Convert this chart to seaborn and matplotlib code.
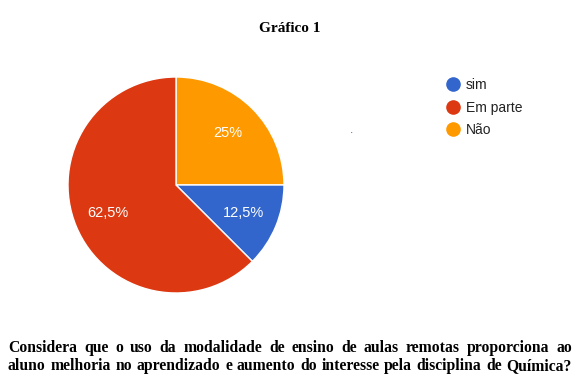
import matplotlib
matplotlib.use("Agg")
import matplotlib.pyplot as plt
import seaborn as sns
from matplotlib.lines import Line2D

sns.set_theme(style="white")
plt.rcParams['font.family'] = ['Liberation Sans', 'DejaVu Sans']

# Data
categories = ["sim", "Em parte", "Não"]
values = [12.5, 62.5, 25.0]
pct_labels = ["12,5%", "62,5%", "25%"]
colors = ["#3366cc", "#dc3912", "#ff9900"]
title = "Gráfico 1"
caption_lines = [
    "Considera que o uso da modalidade de ensino de aulas remotas proporciona ao",
    "aluno melhoria no aprendizado e aumento do interesse pela disciplina de Química?",
]

W, H = 578, 380
fig = plt.figure(figsize=(W / 100, H / 100), dpi=100)
fig.patch.set_facecolor("white")

# Pie drawing order: clockwise from 12 o'clock -> Não, sim, Em parte
order = [2, 0, 1]
ax = fig.add_axes([68 / W, (H - 293) / H, 216 / W, 216 / H])
wedges, texts = ax.pie(
    [values[i] for i in order],
    colors=[colors[i] for i in order],
    labels=[pct_labels[i] for i in order],
    labeldistance=0.68,
    startangle=90,
    counterclock=False,
    radius=1.0,
    wedgeprops=dict(edgecolor="white", linewidth=1.0),
    textprops=dict(color="white", fontsize=10.5, ha="center", va="center"),
)
for t in texts:
    t.set_ha("center")
    t.set_va("center")
ax.set_xlim(-1.0, 1.0)
ax.set_ylim(-1.0, 1.0)
ax.set_aspect("equal")
ax.axis("off")

# Title
fig.text(290 / W, 1 - 28 / H, title, ha="center", va="center",
         fontfamily="Liberation Serif", fontweight="bold", fontsize=11, color="black")

# Legend
handles = [Line2D([0], [0], marker="o", linestyle="", markersize=9.5,
                  markerfacecolor=c, markeredgecolor=c) for c in colors]
fig.legend(handles, categories, loc="upper left",
           bbox_to_anchor=(443 / W, 1 - 78 / H), frameon=False,
           fontsize=10, labelspacing=0.62, handletextpad=0.25,
           handlelength=1.4, borderaxespad=0, borderpad=0, labelcolor="#222222")

# stray dot
fig.text(352 / W, 1 - 134 / H, "•", ha="center", va="center", color="#3333aa", fontsize=3)

# Justified caption
fig.canvas.draw()
renderer = fig.canvas.get_renderer()
x_left, x_right = 8, 572
line_y = [348, 366]
for line, yy in zip(caption_lines, line_y):
    words = line.split(" ")
    arts = []
    widths = []
    for w in words:
        t = fig.text(0, 1 - yy / H, w, ha="left", va="center",
                     fontfamily="Liberation Serif", fontweight="bold",
                     fontsize=11.3, color="black")
        bb = t.get_window_extent(renderer=renderer)
        arts.append(t)
        widths.append(bb.width)
    gap = (x_right - x_left - sum(widths)) / (len(words) - 1)
    x = x_left
    for t, wdt in zip(arts, widths):
        t.set_x(x / W)
        x += wdt + gap

fig.savefig("out.png", dpi=100, facecolor="white")
